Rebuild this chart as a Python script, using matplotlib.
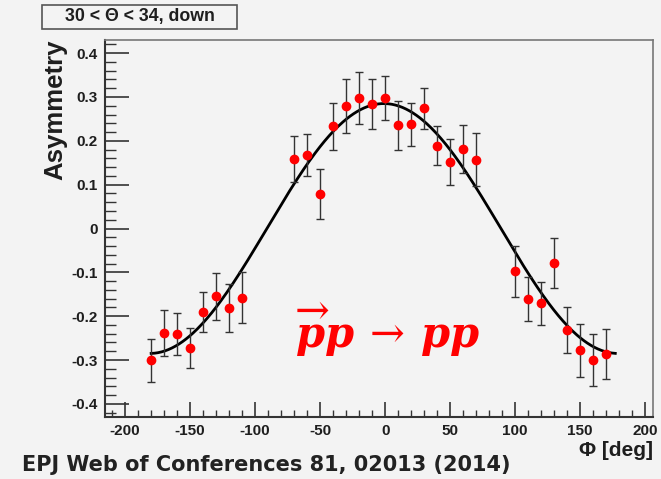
import numpy as np
import matplotlib
matplotlib.use("Agg")
import matplotlib.pyplot as plt
from matplotlib.patches import Rectangle
from matplotlib.ticker import MultipleLocator, FixedLocator, FixedFormatter

# Measured azimuthal asymmetry, 30 < Theta < 34 deg, "down" detector half
phi = [-180, -170, -160, -150, -140, -130, -120, -110,
       -70, -60, -50, -40, -30, -20, -10, 0, 10, 20, 30, 40, 50, 60, 70,
       100, 110, 120, 130, 140, 150, 160, 170]
asym = [-0.301, -0.238, -0.240, -0.273, -0.190, -0.155, -0.182, -0.158,
        0.158, 0.168, 0.079, 0.233, 0.280, 0.298, 0.284, 0.298, 0.235, 0.238,
        0.274, 0.189, 0.152, 0.182, 0.157,
        -0.098, -0.161, -0.171, -0.079, -0.232, -0.278, -0.300, -0.287]
asym_err = [0.049, 0.053, 0.048, 0.046, 0.045, 0.053, 0.055, 0.058,
            0.052, 0.048, 0.057, 0.053, 0.062, 0.060, 0.058, 0.051, 0.055, 0.049,
            0.046, 0.045, 0.052, 0.055, 0.061,
            0.058, 0.050, 0.050, 0.057, 0.053, 0.060, 0.059, 0.057]

# Fitted modulation  A * cos(phi - phi0)
fit_amp = 0.285
fit_phase = -1.0
fit_range = (-180.0, 177.0)

x_ticks = [-200, -150, -100, -50, 0, 50, 100, 150, 200]
x_ticklabels = ["-200", "-150", "-100", "-50", "0", "50", "100", "150", "200"]
y_ticks = [-0.4, -0.3, -0.2, -0.1, 0.0, 0.1, 0.2, 0.3, 0.4]
y_ticklabels = ["-0.4", "-0.3", "-0.2", "-0.1", "0", "0.1", "0.2", "0.3", "0.4"]

bg = "#f3f3f3"
ink = "#1e1e1e"

plt.rcParams["mathtext.fontset"] = "custom"
plt.rcParams["mathtext.it"] = "DejaVu Serif:italic:bold"
plt.rcParams["mathtext.rm"] = "DejaVu Serif"
plt.rcParams["mathtext.bf"] = "DejaVu Serif:bold"

W, H = 661, 479
fig = plt.figure(figsize=(W / 100, H / 100), dpi=100, facecolor=bg)
ax = fig.add_axes([105 / W, 1 - 417 / H, (653 - 105) / W, (417 - 40) / H])
ax.set_facecolor(bg)

# fit curve
xf = np.linspace(fit_range[0], fit_range[1], 400)
ax.plot(xf, fit_amp * np.cos(np.radians(xf - fit_phase)), color="black", lw=2.0, zorder=2)

# data with error bars
ax.errorbar(phi, asym, yerr=asym_err, fmt="o", color="#ff0000", ms=6,
            mec="#ff0000", ecolor="#333333", elinewidth=1.0, capsize=3,
            capthick=1.0, zorder=3)

ax.set_xlim(-215.5, 206)
ax.set_ylim(-0.43, 0.43)

ax.xaxis.set_major_locator(FixedLocator(x_ticks))
ax.xaxis.set_major_formatter(FixedFormatter(x_ticklabels))
ax.xaxis.set_minor_locator(MultipleLocator(10))
ax.yaxis.set_major_locator(FixedLocator(y_ticks))
ax.yaxis.set_major_formatter(FixedFormatter(y_ticklabels))
ax.yaxis.set_minor_locator(MultipleLocator(0.02))

ax.tick_params(axis="both", which="both", direction="in", color="#333333",
               top=False, right=False)
ax.tick_params(axis="x", which="major", length=11, width=1.2, pad=5)
ax.tick_params(axis="x", which="minor", length=5, width=1.0)
ax.tick_params(axis="y", which="major", length=17, width=1.2, pad=5)
ax.tick_params(axis="y", which="minor", length=8, width=1.0)
for lab in ax.get_xticklabels() + ax.get_yticklabels():
    lab.set_fontfamily("Liberation Sans")
    lab.set_fontweight("bold")
    lab.set_fontsize(11)
    lab.set_color(ink)

for side in ("left", "bottom"):
    ax.spines[side].set_color("#333333")
    ax.spines[side].set_linewidth(1.5)
for side in ("top", "right"):
    ax.spines[side].set_color("#777777")
    ax.spines[side].set_linewidth(1.2)

# axis titles
fig.text(55 / W, 1 - 40 / H, "Asymmetry", rotation=90, ha="center", va="top",
         fontfamily="Liberation Sans", fontweight="bold", fontsize=18.5, color=ink)
fig.text(653 / W, 1 - 451 / H, "\u03a6 [deg]", ha="right", va="center",
         fontfamily="Liberation Sans", fontweight="bold", fontsize=15, color=ink)

# pave with selection
fig.add_artist(Rectangle((42 / W, 1 - 29 / H), (237 - 42) / W, 24 / H,
                         transform=fig.transFigure, facecolor=bg,
                         edgecolor="#555555", linewidth=1.2))
fig.text((42 + 237) / 2 / W, 1 - 17 / H, "30 < \u0398 < 34, down", ha="center", va="center",
         fontfamily="Liberation Sans", fontweight="bold", fontsize=12.8, color=ink)

# reaction label
fig.text(295 / W, 1 - 348 / H, r"$\overrightarrow{p}p\,\rightarrow\,pp$", ha="left", va="baseline",
         fontsize=30, color="#ff0000")

# reference
fig.text(22 / W, 1 - 465 / H, "EPJ Web of Conferences 81, 02013 (2014)", ha="left", va="center",
         fontfamily="DejaVu Sans", fontweight="bold", fontsize=15, color="#222222")

fig.savefig("out.png", dpi=100, facecolor=bg)
